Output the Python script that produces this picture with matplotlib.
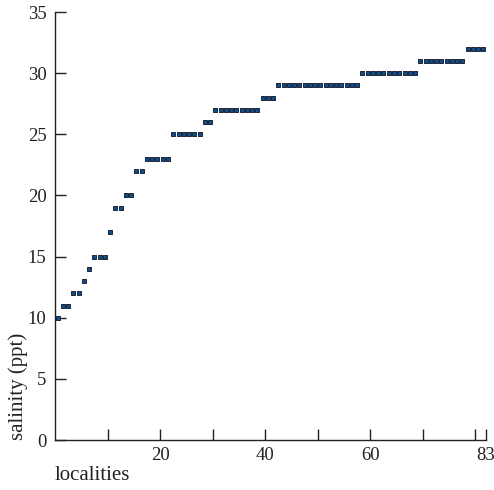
import matplotlib
matplotlib.use("Agg")
import matplotlib.pyplot as plt
import numpy as np

# salinity levels (ppt) and how many localities sit at each level
levels = [10, 11, 12, 13, 14, 15, 17, 19, 20, 22, 23, 25, 26, 27, 28, 29, 30, 31, 32]
counts = [1, 2, 2, 1, 1, 3, 1, 2, 2, 2, 5, 6, 2, 9, 3, 16, 11, 9, 4]

salinity = np.repeat(levels, counts)
localities = np.arange(len(salinity)) + 0.5

x_ticks = [10, 20, 30, 40, 50, 60, 70, 80, 82]
x_labels = ["", "20", "", "40", "", "60", "", "", "83"]
y_ticks = [0, 5, 10, 15, 20, 25, 30, 35]

plt.rcParams['font.family'] = ['Liberation Serif', 'DejaVu Serif']

fig = plt.figure(figsize=(4.94, 4.90), dpi=100)
ax = fig.add_axes([0.1113, 0.102, 0.8725, 0.8735])

ax.plot(localities, salinity, linestyle='none', marker='s', markersize=2.9,
        markerfacecolor='#0d4f8b', markeredgecolor='#1b2233', markeredgewidth=0.7,
        clip_on=False)

ax.set_xlim(0, 82)
ax.set_ylim(0, 35)
ax.set_xticks(x_ticks)
ax.set_xticklabels(x_labels)
ax.set_yticks(y_ticks)

for s in ['top', 'right']:
    ax.spines[s].set_visible(False)
for s in ['left', 'bottom']:
    ax.spines[s].set_linewidth(1.0)
    ax.spines[s].set_color('#222222')

ax.tick_params(axis='both', direction='in', length=8, width=1.0, color='#222222',
               labelsize=13.5, labelcolor='#222222')
ax.tick_params(axis='y', pad=6)
ax.tick_params(axis='x', pad=5)

ax.set_xlabel('localities', fontsize=15, color='#222222')
ax.xaxis.set_label_coords(0.0, -0.06)
ax.xaxis.label.set_horizontalalignment('left')

ax.set_ylabel('salinity (ppt)', fontsize=15, color='#222222')
ax.yaxis.set_label_coords(-0.062, 0.0)
ax.yaxis.label.set_verticalalignment('bottom')
ax.yaxis.label.set_horizontalalignment('left')

fig.savefig('out.png', dpi=100)
